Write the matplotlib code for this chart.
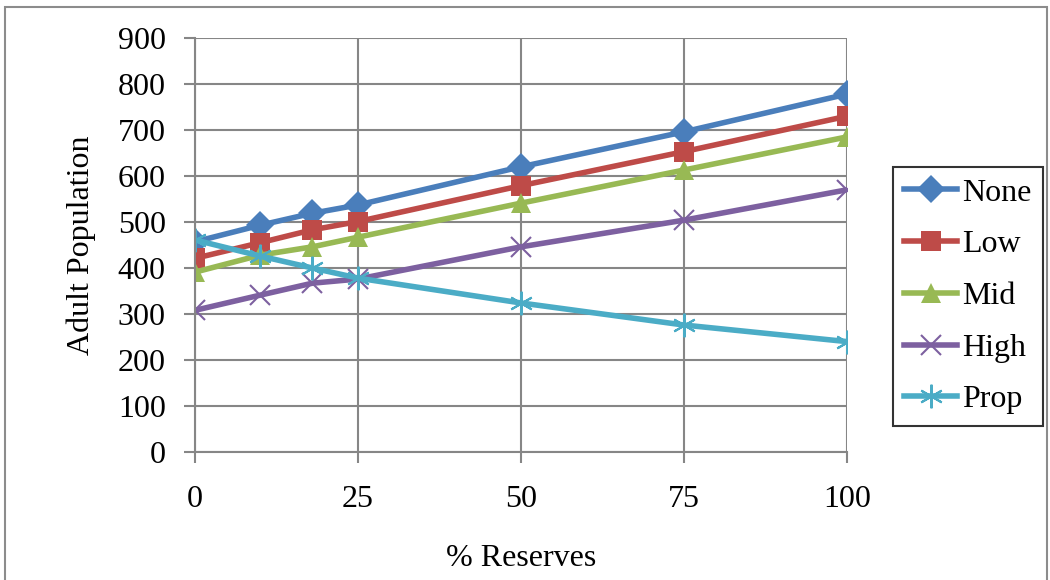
#!/usr/bin/env python3

# Adult population vs % reserves, one line per harvest level

import numpy as np
import matplotlib.pyplot as plt
from matplotlib.patches import Rectangle

reserves = [0, 10, 18, 25, 50, 75, 100]
none_pop = [457, 493, 519, 537, 620, 696, 778]
low_pop  = [421, 455, 483, 501, 579, 653, 730]
mid_pop  = [391, 428, 446, 467, 541, 613, 685]
high_pop = [308, 341, 367, 376, 446, 504, 570]
prop_pop = [461, 426, 400, 378, 324, 276, 240]

series_names = ['None', 'Low', 'Mid', 'High', 'Prop']
xticks = [0, 25, 50, 75, 100]
yticks = list(range(0, 1000, 100))

plt.rcParams['font.family'] = ['Liberation Serif', 'DejaVu Serif']
fs = 23

fig = plt.figure(figsize=(10.5, 5.8), dpi=100, facecolor='white')
ax = fig.add_axes([195/1050, 1-452/580, (847-195)/1050, (452-38)/580])

# outer chart border
fig.patches.append(Rectangle((4.5/1050, -0.05), (1047-4.5)/1050, 1.05-7/580,
                             transform=fig.transFigure, fill=False,
                             edgecolor='#8c8c8c', linewidth=1.5))

styles = [
    ('#4A7EBB', 'D', 14, None),
    ('#BE4B48', 's', 14, None),
    ('#98B954', '^', 15, None),
    ('#7D60A0', 'x', 15, 1.5),
    ('#4BACC6', (6, 2, 0), 17, 1.5),
]
data = [none_pop, low_pop, mid_pop, high_pop, prop_pop]
for name, vals, (c, m, ms, mew) in zip(series_names, data, styles):
    kw = dict(color=c, marker=m, markersize=ms, linewidth=4, label=name,
              markerfacecolor=c, markeredgecolor=c)
    if mew is not None:
        kw['markeredgewidth'] = mew
    else:
        kw['markeredgewidth'] = 0
    ax.plot(reserves, vals, **kw)

ax.set_xlim(0, 100)
ax.set_ylim(0, 900)
ax.set_xticks(xticks)
ax.set_yticks(yticks)
ax.grid(True, color='#868686', linewidth=1.5)
ax.set_axisbelow(True)
for s in ['top', 'right']:
    ax.spines[s].set_visible(False)
for s in ['left', 'bottom']:
    ax.spines[s].set_color('#868686')
    ax.spines[s].set_linewidth(1.5)
ax.tick_params(axis='both', colors='#868686', length=8, width=1.5,
               labelsize=fs, labelcolor='black')
ax.tick_params(axis='x', pad=16)
ax.tick_params(axis='y', pad=13)

ax.set_xlabel('% Reserves', fontsize=fs, labelpad=21)
ax.set_ylabel('Adult Population', fontsize=fs, labelpad=16)

leg = fig.legend(loc='upper left', bbox_to_anchor=(893/1050, 1-167/580),
                 fontsize=fs, frameon=True, fancybox=False,
                 handlelength=1.66, handletextpad=0.15, labelspacing=0.7,
                 borderpad=0.35, borderaxespad=0)
leg.get_frame().set_edgecolor('black')
leg.get_frame().set_linewidth(1.5)

plt.savefig('out.png', dpi=100)
